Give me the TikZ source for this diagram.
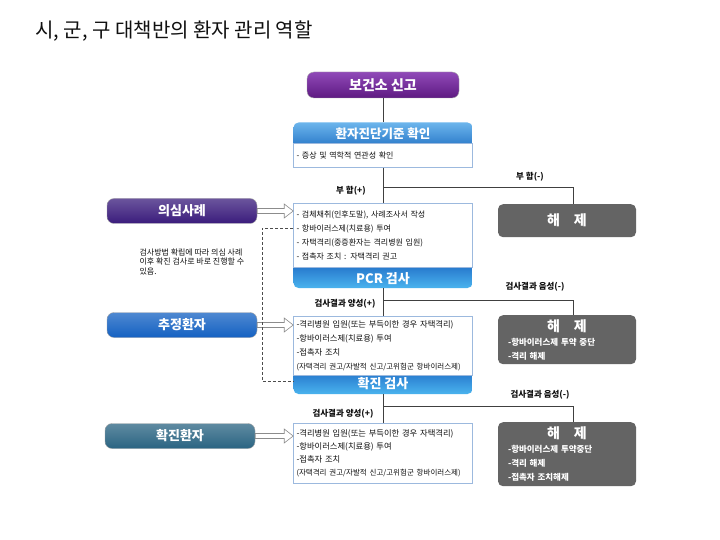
\documentclass[tikz,border=0pt]{standalone}
\usepackage{fontspec}
\setmainfont{Noto Sans CJK KR}
\usetikzlibrary{calc,positioning}
\definecolor{kink}{HTML}{101010}
\definecolor{kpurple}{HTML}{5E1A82}
\definecolor{kpurpletop}{HTML}{9049B8}
\definecolor{kindigo}{HTML}{3A1C7C}
\definecolor{kblue}{HTML}{1461C2}
\definecolor{kteal}{HTML}{2A6482}
\definecolor{kheadtop}{HTML}{6CB5EC}
\definecolor{kheadbot}{HTML}{2474C6}
\definecolor{kbartop}{HTML}{1F6CC6}
\definecolor{kbarbot}{HTML}{4AB3EE}
\definecolor{kframe}{HTML}{9CB9DE}
\definecolor{kgray}{HTML}{646464}
\tikzset{
  titletext/.style={font=\fontsize{20}{22}\selectfont, text=kink},
  pill/.style={rounded corners=7pt, minimum width=150pt, minimum height=25pt,
    draw=black!35, line width=.4pt, text=white,
    font=\fontsize{13}{15}\selectfont\bfseries},
  headbox/.style={rounded corners=5pt, minimum width=179pt, minimum height=26pt,
    top color=kheadtop, bottom color=kheadbot, text=white,
    font=\fontsize{12.5}{14}\selectfont\bfseries},
  testbar/.style={rounded corners=5pt, minimum width=179pt, minimum height=26pt,
    top color=kbartop, bottom color=kbarbot, text=white,
    font=\fontsize{13}{15}\selectfont\bfseries},
  itembox/.style={draw=kframe, fill=white, line width=.6pt, anchor=north,
    align=left, text width=173pt, inner xsep=3pt, inner ysep=4pt, text=kink},
  releasebox/.style={fill=kgray, rounded corners=5pt, text=white, anchor=north,
    align=left, text width=118pt, inner xsep=10pt, inner ysep=4pt,
    font=\fontsize{8.5}{14}\selectfont\bfseries},
  steplabel/.style={font=\fontsize{8.5}{10}\selectfont\bfseries, text=kink},
  notetext/.style={font=\fontsize{8}{9.5}\selectfont, text=kink, align=left},
  flow/.style={draw=black!75, line width=.8pt},
  dashlink/.style={draw=black!70, densely dashed, line width=.6pt},
  hollowarrow/.style={draw=black!45, fill=white, line width=.6pt,
    to path={let \p1=(\tikztostart), \p2=(\tikztotarget) in
      (\x1,\y1+2.5pt) -- (\x2-9pt,\y1+2.5pt) -- (\x2-9pt,\y1+7pt) -- (\x2,\y1)
      -- (\x2-9pt,\y1-7pt) -- (\x2-9pt,\y1-2.5pt) -- (\x1,\y1-2.5pt) -- cycle}}
}
\newcommand{\releasehead}{\hfill{\fontsize{14}{16}\selectfont 해\quad 제}\hfill\null}
\newcommand{\smallline}[1]{{\fontsize{7.5}{13}\selectfont #1}}
\newcommand{\shiftlabel}[2]{\raisebox{#1}[\height][\depth]{#2}}

\begin{document}
\begin{tikzpicture}[x=1pt,y=-1pt]
  \fill[white] (0,0) rectangle (720,540);
  \useasboundingbox (0,0) rectangle (720,540);
  \node[titletext, anchor=west] (title) at (32,31) {시, 군, 구 대책반의 환자 관리 역할};

  % reporting and first check
  \node[pill, minimum width=152pt, minimum height=26pt, top color=kpurpletop,
    bottom color=kpurple, font=\fontsize{14}{16}\selectfont\bfseries]
    (report) at (383,85) {보건소 신고};
  \node[headbox] (crithead) at (383,135.5) {\shiftlabel{2pt}{환자진단기준 확인}};
  \node[itembox, minimum height=24pt, font=\fontsize{8}{10}\selectfont]
    (crit) at (383,143) {- 증상 및 역학적 연관성 확인};

  % PCR stage
  \node[testbar] (pcr) at (383,275) {\shiftlabel{-3.5pt}{PCR 검사}};
  \node[itembox, minimum height=64pt, font=\fontsize{8}{14}\selectfont] (box1) at (383,203)
    {- 검체채취(인후도말), 사례조사서 작성\\
     - 항바이러스제(치료용) 투여\\
     - 자택격리(중증환자는 격리병원 입원)\\
     - 접촉자 조치 : 자택격리 권고};

  % confirmation stage
  \node[testbar] (conftest) at (383,381) {\shiftlabel{-2.5pt}{확진 검사}};
  \node[itembox, minimum height=59pt, font=\fontsize{8.3}{14}\selectfont] (box2) at (383,316)
    {-격리병원 입원(또는 부득이한 경우 자택격리)\\
     -항바이러스제(치료용) 투여\\
     -접촉자 조치\\
     \smallline{(자택격리 권고/자발적 신고/고위험군 항바이러스제)}};
  \node[itembox, minimum height=60pt, font=\fontsize{8.3}{13}\selectfont] (box3) at (383,423)
    {-격리병원 입원(또는 부득이한 경우 자택격리)\\
     -항바이러스제(치료용) 투여\\
     -접촉자 조치\\
     \smallline{(자택격리 권고/자발적 신고/고위험군 항바이러스제)}};

  % release boxes
  \node[releasebox, minimum height=33pt, font=\fontsize{14}{16}\selectfont\bfseries,
    align=center] (rel1) at (567,204) {해\quad 제};
  \node[releasebox, minimum height=49pt] (rel2) at (567,315)
    {\releasehead\\ -항바이러스제 투약 중단\\ -격리 해제};
  \node[releasebox, minimum height=64pt] (rel3) at (567,422)
    {\releasehead\\ -항바이러스제 투약중단\\ -격리 해제\\ -접촉자 조치해제};

  % patient classes
  \node[pill, top color=kindigo!75!white, bottom color=kindigo] (suspect) at (182,211) {의심사례};
  \node[pill, top color=kblue!75!white, bottom color=kblue] (presumed) at (182,325) {추정환자};
  \node[pill, top color=kteal!75!white, bottom color=kteal] (confirmed) at (180,436) {확진환자};
  \node[notetext, anchor=north west] (note) at (136,245)
    {검사방법 확립에 따라 의심 사례\\ 이후 확진 검사로 바로 진행할 수\\ 있음.};

  % spine and branches
  \coordinate (br1) at (573,187);
  \coordinate (br2) at (573,300);
  \coordinate (br3) at (573,406);
  \coordinate (dashturn) at (262,381);
  \draw[flow] (report.south) -- (crithead.north);
  \draw[flow] (crit.south) -- (box1.north);
  \draw[flow] (crit.south |- br1) -- (br1) -- (br1 |- rel1.north);
  \draw[flow] (pcr.south) -- (box2.north);
  \draw[flow] (pcr.south |- br2) -- (br2) -- (br2 |- rel2.north);
  \draw[flow] (conftest.south) -- (box3.north);
  \draw[flow] (conftest.south |- br3) -- (br3) -- (br3 |- rel3.north);
  \node[steplabel] (neg1) at (530,177) {부 합(-)};
  \node[steplabel] (pos1) at (351,191) {부 합(+)};
  \node[steplabel] (neg2) at (535,287) {검사결과 음성(-)};
  \node[steplabel] (pos2) at (345,304) {검사결과 양성(+)};
  \node[steplabel] (neg3) at (540,395) {검사결과 음성(-)};
  \node[steplabel] (pos3) at (343,414) {검사결과 양성(+)};

  \draw[hollowarrow] (suspect.east) to (suspect.east -| box1.west);
  \draw[hollowarrow] (presumed.east) to (presumed.east -| box2.west);
  \draw[hollowarrow] (confirmed.east) to (confirmed.east -| box3.west);
  \draw[dashlink] ([yshift=-25pt]box1.north west) -| (dashturn) -- (dashturn -| conftest.west);
\end{tikzpicture}
\end{document}
